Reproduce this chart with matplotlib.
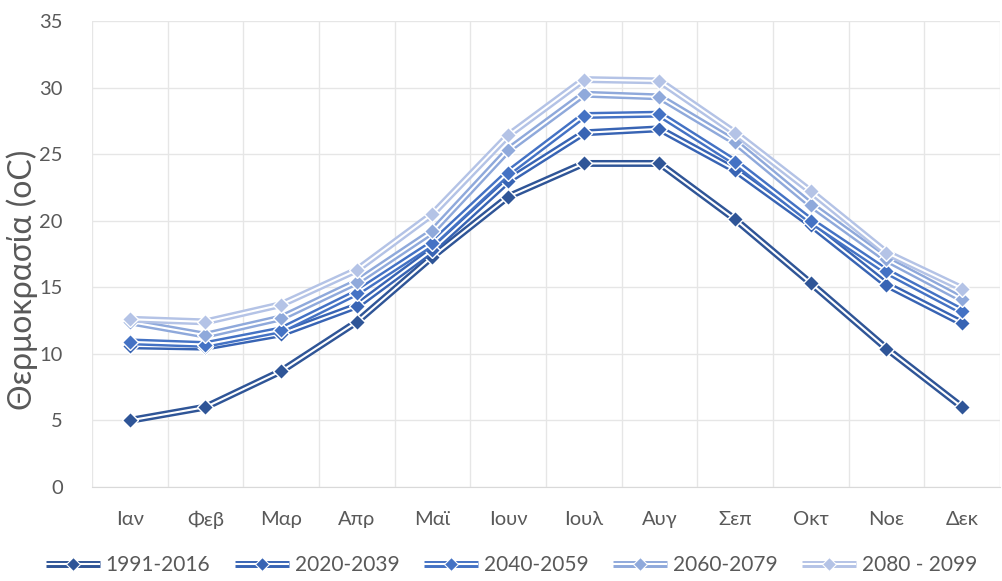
import matplotlib
matplotlib.use("Agg")
import matplotlib.pyplot as plt
from matplotlib.lines import Line2D
from matplotlib.legend_handler import HandlerTuple

plt.rcParams['font.family'] = ['Lato', 'DejaVu Sans']

months = ["Ιαν", "Φεβ", "Μαρ", "Απρ", "Μαϊ", "Ιουν", "Ιουλ", "Αυγ", "Σεπ", "Οκτ", "Νοε", "Δεκ"]
labels = ["1991-2016", "2020-2039", "2040-2059", "2060-2079", "2080 - 2099"]
s1991 = [5.0, 6.0, 8.7, 12.4, 17.3, 21.8, 24.3, 24.3, 20.1, 15.3, 10.4, 6.0]
s2020 = [10.6, 10.5, 11.5, 13.6, 17.8, 23.0, 26.6, 26.9, 23.8, 19.7, 15.2, 12.3]
s2040 = [10.9, 10.7, 11.8, 14.6, 18.3, 23.6, 27.9, 28.0, 24.4, 20.0, 16.2, 13.2]
s2060 = [12.4, 11.4, 12.7, 15.4, 19.2, 25.3, 29.5, 29.3, 25.9, 21.2, 17.1, 14.1]
s2080 = [12.6, 12.4, 13.7, 16.3, 20.5, 26.4, 30.6, 30.5, 26.6, 22.2, 17.6, 14.9]
series = [s1991, s2020, s2040, s2060, s2080]
colors = ["#2F5597", "#3864B4", "#4472C4", "#8FA9DB", "#B4C3E6"]

fig = plt.figure(figsize=(10.03, 5.81), dpi=100)
ax = fig.add_axes([0.0917, 0.1618, 0.9053, 0.8021])

x = list(range(len(months)))
handles = []
for i, (vals, c, lab) in enumerate(zip(series, colors, labels)):
    z = 3 + i * 3
    ax.plot(x, vals, color=c, lw=5.0, solid_capstyle='butt', solid_joinstyle='miter', zorder=z)
    ax.plot(x, vals, color='white', lw=1.5, solid_capstyle='butt', solid_joinstyle='miter', zorder=z + 0.5)
    ax.plot(x, vals, linestyle='none', marker='D', markersize=8.5, markerfacecolor=c,
            markeredgecolor='white', markeredgewidth=1.0, zorder=z + 1)
    h1 = Line2D([], [], color=c, lw=5.0, solid_capstyle='butt')
    h2 = Line2D([], [], color='white', lw=1.5, solid_capstyle='butt')
    h3 = Line2D([], [], linestyle='none', marker='D', markersize=7, markerfacecolor=c,
                markeredgecolor='white', markeredgewidth=0.8)
    handles.append((h1, h2, h3))

ax.set_xlim(-0.5, len(months) - 0.5)
ax.set_ylim(0, 35)
ax.set_yticks(range(0, 36, 5))
ax.set_xticks(x)
ax.set_xticklabels(months)
for b in [i - 0.5 for i in range(len(months) + 1)]:
    ax.axvline(b, color='#E6E6E6', lw=1.0, zorder=1)
ax.yaxis.grid(True, color='#E6E6E6', lw=1.0, zorder=1)
ax.set_axisbelow(True)
for s in ['top', 'right', 'left']:
    ax.spines[s].set_visible(False)
ax.spines['bottom'].set_color('#D9D9D9')
ax.tick_params(axis='both', length=0, labelsize=14.5, colors='#595959')
ax.tick_params(axis='x', pad=17)
ax.tick_params(axis='y', pad=21)
ax.set_ylabel("Θερμοκρασία (oC)", fontsize=23, color='#595959')
ax.yaxis.set_label_coords(-0.059, 0.444)

leg = fig.legend(handles, labels, loc='lower center', bbox_to_anchor=(0.51, -0.022), ncol=5,
                 frameon=False, fontsize=15, handler_map={tuple: HandlerTuple(ndivide=1)},
                 handlelength=2.6, columnspacing=1.2, handletextpad=0.25)
for t in leg.get_texts():
    t.set_color('#595959')

fig.savefig("out.png", dpi=100)
